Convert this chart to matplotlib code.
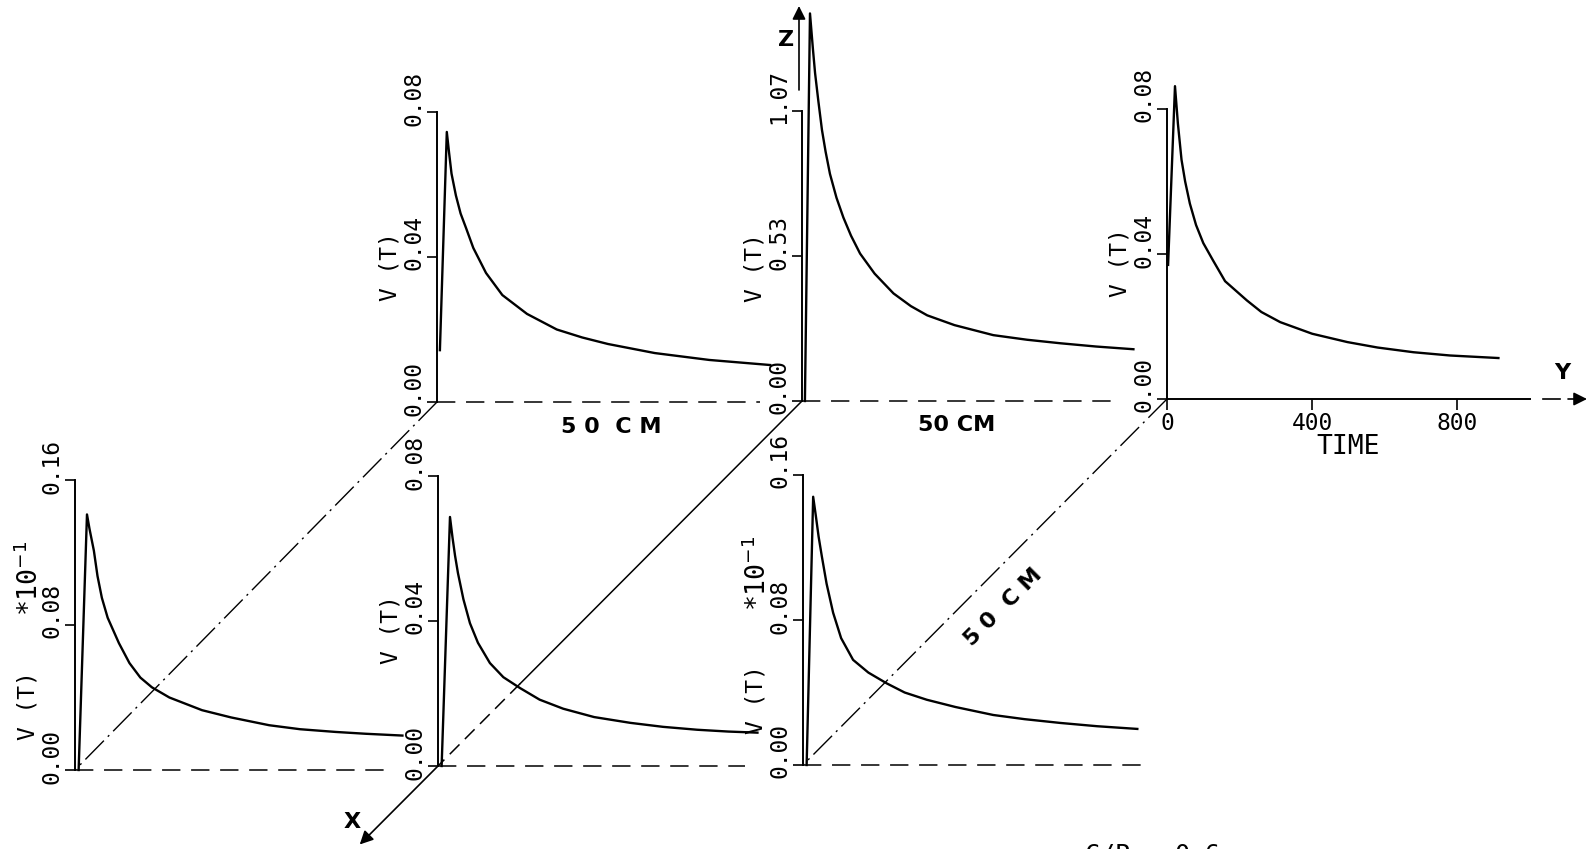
import numpy as np
import matplotlib.pyplot as plt
from matplotlib import transforms

# time and V(T) read off each of the six traces
# top row: left, centre, right
t_a = [8, 27, 33, 40, 52, 65, 80, 100, 135, 180, 248, 330, 400, 471, 600, 750, 918]
v_a = [0.0143, 0.0745, 0.069, 0.063, 0.057, 0.052, 0.048, 0.0425, 0.0356, 0.0295,
       0.0243, 0.0200, 0.0178, 0.0160, 0.0135, 0.0116, 0.0102]

t_b = [8, 22, 30, 36, 45, 55, 65, 77, 95, 114, 135, 160, 200, 252, 300, 345, 420,
       527, 620, 712, 810, 913]
v_b = [0.0, 1.43, 1.30, 1.21, 1.107, 1.00, 0.92, 0.838, 0.75, 0.677, 0.61, 0.544,
       0.47, 0.397, 0.35, 0.316, 0.28, 0.243, 0.226, 0.213, 0.201, 0.191]

t_c = [3, 22, 30, 40, 50, 63, 80, 100, 127, 160, 220, 260, 312, 400, 497, 580, 679,
       780, 913]
v_c = [0.037, 0.0863, 0.076, 0.066, 0.060, 0.0539, 0.048, 0.0430, 0.0382, 0.0325,
       0.0272, 0.0240, 0.0212, 0.0180, 0.0157, 0.0142, 0.0129, 0.0120, 0.0113]

# bottom row: left (x10^-1), centre, right (x10^-1)
t_d = [10, 33, 40, 52, 62, 74, 90, 121, 150, 180, 212, 260, 350, 430, 535, 620, 718,
       800, 902]
v_d = [0.0, 0.141, 0.133, 0.121, 0.107, 0.095, 0.084, 0.070, 0.059, 0.051, 0.0456,
       0.040, 0.033, 0.029, 0.0247, 0.0225, 0.021, 0.020, 0.019]

t_e = [10, 33, 40, 47, 55, 70, 88, 110, 143, 180, 226, 280, 345, 430, 530, 620, 714,
       800, 880]
v_e = [0.0, 0.0687, 0.063, 0.058, 0.0532, 0.046, 0.0394, 0.034, 0.0284, 0.0245,
       0.0215, 0.0183, 0.0158, 0.0135, 0.0119, 0.0108, 0.0100, 0.0095, 0.0092]

t_f = [10, 28, 35, 43, 52, 65, 83, 105, 138, 180, 231, 280, 341, 420, 524, 610, 709,
       810, 921]
v_f = [0.0, 0.148, 0.138, 0.126, 0.115, 0.100, 0.084, 0.070, 0.058, 0.051, 0.045,
       0.040, 0.036, 0.032, 0.0276, 0.0253, 0.0232, 0.0214, 0.0199]

ticks_small = [0.0, 0.04, 0.08]
labels_small = ['0.00', '0.04', '0.08']
ticks_mid = [0.0, 0.535, 1.07]
labels_mid = ['0.00', '0.53', '1.07']
ticks_x10 = [0.0, 0.08, 0.16]
labels_x10 = ['0.00', '0.08', '0.16']
time_ticks = [0, 400, 800]

W, H = 1588, 849
fig = plt.figure(figsize=(W / 100, H / 100), dpi=100)
fig.patch.set_facecolor('white')

mono = 'DejaVu Sans Mono'
PW, PH = 363, 290   # panel box in px, time axis runs 0..1000


def px(dx, dy):
    # offset in pixels, dy positive = up
    return transforms.ScaledTranslation(dx / 100, dy / 100, fig.dpi_scale_trans)


def panel(ox, oy, t, v, ticks, labels, vt_pos, base_end=None, x10=False):
    ax = fig.add_axes([ox / W, 1 - oy / H, PW / W, PH / H])
    ax.set_xlim(0, 1000)
    ax.set_ylim(0, ticks[-1])
    ax.patch.set_alpha(0)
    for s in ('top', 'right', 'bottom'):
        ax.spines[s].set_visible(False)
    ax.spines['left'].set_linewidth(1.4)
    ax.set_xticks([])
    ax.set_yticks(ticks)
    ax.set_yticklabels([])
    ax.tick_params(axis='y', length=7, width=1.2)
    ax.plot(t, v, color='k', lw=1.7, clip_on=False, solid_joinstyle='round')
    if base_end:
        ax.plot([0, base_end], [0, 0], color='k', lw=1.1, ls=(0, (12, 7)),
                clip_on=False)
    bt = transforms.blended_transform_factory(ax.transAxes, ax.transData)
    for tk, lb in zip(ticks, labels):
        ax.text(0, tk, lb, transform=bt + px(-23, 14), rotation=90,
                ha='center', va='center', fontsize=16.5, family=mono)
    ax.text(0, vt_pos, 'V (T)', transform=ax.transAxes + px(-47, 0),
            rotation=90, ha='center', va='center', fontsize=16.5, family=mono)
    if x10:
        ax.text(0, 0.66, '*10$^{-1}$', transform=ax.transAxes + px(-45, 0),
                rotation=90, ha='center', va='center', fontsize=19, family=mono)
    return ax


ax_a = panel(437, 402, t_a, v_a, ticks_small, labels_small, 0.466, base_end=891)
ax_b = panel(802, 401, t_b, v_b, ticks_mid, labels_mid, 0.46, base_end=869)
ax_c = panel(1167, 399, t_c, v_c, ticks_small, labels_small, 0.47)
ax_d = panel(75, 770, t_d, v_d, ticks_x10, labels_x10, 0.223, base_end=880, x10=True)
ax_e = panel(438, 766, t_e, v_e, ticks_small, labels_small, 0.47, base_end=847)
ax_f = panel(803, 765, t_f, v_f, ticks_x10, labels_x10, 0.224, base_end=938, x10=True)

# right panel carries the time axis
ax_c.spines['bottom'].set_visible(True)
ax_c.spines['bottom'].set_linewidth(1.4)
ax_c.set_xticks(time_ticks)
ax_c.set_xticklabels([str(x) for x in time_ticks], family=mono, fontsize=16.5)
ax_c.tick_params(axis='x', length=8, width=1.2, pad=1)
ax_c.set_xlabel('TIME', family=mono, fontsize=19, labelpad=0)

# overlay in image pixels for the pseudo-3D frame
ov = fig.add_axes([0, 0, 1, 1], zorder=-1)
ov.set_xlim(0, W)
ov.set_ylim(H, 0)
ov.axis('off')


def origin(ax):
    x, y = ax.transData.transform((0, 0))
    return np.array([x, H - y])


oa, ob, oc = origin(ax_a), origin(ax_b), origin(ax_c)
od, oe, of = origin(ax_d), origin(ax_e), origin(ax_f)
dashdot = (0, (19, 4, 1.5, 4))

ov.plot([oa[0], od[0]], [oa[1], od[1]], color='k', lw=1.0, ls=dashdot)
ov.plot([oc[0], of[0]], [oc[1], of[1]], color='k', lw=1.0, ls=dashdot)

mid = ob + 0.775 * (oe - ob)
ov.plot([ob[0], mid[0]], [ob[1], mid[1]], color='k', lw=1.1)
ov.plot([mid[0], oe[0]], [mid[1], oe[1]], color='k', lw=1.1, ls=(0, (9, 5)))
tip = oe + 0.215 * (oe - ob)
ov.annotate('', xy=tip, xytext=oe,
            arrowprops=dict(arrowstyle='-|>', color='k', lw=1.2,
                            mutation_scale=20, shrinkA=0, shrinkB=0))

# Z arrow
ov.annotate('', xy=(799, 6), xytext=(799, 90),
            arrowprops=dict(arrowstyle='-|>', color='k', lw=1.2,
                            mutation_scale=20, shrinkA=0, shrinkB=0))
# Y arrow
ov.plot([1543, 1560], [oc[1], oc[1]], color='k', lw=1.2)
ov.annotate('', xy=(1587, oc[1]), xytext=(1568, oc[1]),
            arrowprops=dict(arrowstyle='-|>', color='k', lw=1.2,
                            mutation_scale=20, shrinkA=0, shrinkB=0))

bold = dict(fontweight='bold', fontsize=16, family='DejaVu Sans',
            ha='center', va='center')
ov.text(786, 40, 'Z', **bold)
ov.text(352, 822, 'X', **bold)
ov.text(1562, 373, 'Y', **bold)
ov.text(611, 427, '5 0  C M', **bold)
ov.text(957, 425, '50 CM', **bold)
ov.text(1003, 607, '5 0  C M', rotation=45, rotation_mode='anchor', **bold)

# caption sits at the lower edge, cut off as in the original
fig.text(1085 / W, 6 / H, 'C/P = 0.6', ha='left', va='top', fontsize=18, family=mono)

fig.savefig('out.png', dpi=100)
